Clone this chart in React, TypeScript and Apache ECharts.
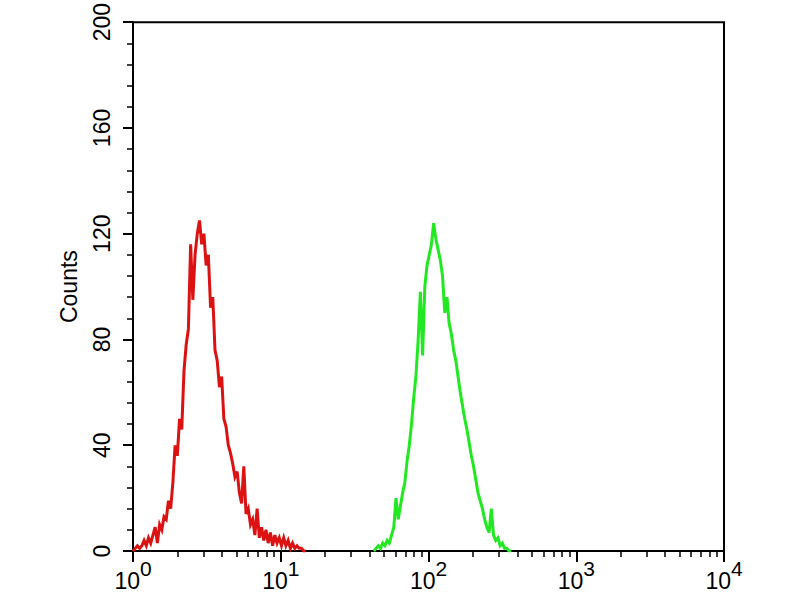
import React, { useEffect, useRef } from "react";
import * as echarts from "echarts";

// Histogram bins are in decades of log10(fluorescence intensity)
const BIN_WIDTH = 0.015;
const RED_START = 0;
const GREEN_START = 1.63;

const RED_COUNTS = [
  0, 1, 2, 1, 2, 4, 2, 5, 3, 6, 9, 3, 10, 8, 13, 12, 19, 16, 26, 40,
  36, 50, 46, 68, 78, 84, 116, 95, 112, 120, 125, 116, 120, 108, 112, 92, 96, 76, 72, 62,
  66, 50, 47, 40, 37, 33, 28, 30, 22, 18, 32, 14, 16, 10, 12, 6, 16, 5, 9, 4,
  8, 3, 7, 2, 6, 3, 5, 2, 5, 2, 4, 1, 3, 1, 2, 1, 1, 0, 0,
];

const GREEN_COUNTS = [
  0, 1, 2, 1, 3, 2, 4, 3, 6, 9, 20, 12, 17, 22, 26, 34, 40, 48, 58, 66,
  80, 98, 74, 100, 108, 112, 116, 124, 118, 114, 110, 104, 90, 96, 86, 82, 76, 72, 66, 60,
  55, 50, 46, 41, 36, 32, 27, 22, 19, 16, 12, 9, 7, 16, 6, 4, 5, 2, 3, 1,
  1, 0, 0,
];

const DECADES = [0, 1, 2, 3, 4];
const MINOR_MULTIPLIERS = [2, 3, 4, 5, 6, 7, 8, 9];
const Y_MIN = 0;
const Y_MAX = 200;
const Y_INTERVAL = 40;
const Y_NAME = "Counts";

function toSeries(start: number, counts: number[]) {
  return counts.map((c, i) => [start + i * BIN_WIDTH, c]);
}

export default function App() {
  const ref = useRef<HTMLDivElement>(null);
  useEffect(() => {
    if (!ref.current) return;
    const chart = echarts.init(ref.current, undefined, { renderer: "svg" });
    const minorTicks: number[] = [];
    DECADES.slice(0, -1).forEach((d) =>
      MINOR_MULTIPLIERS.forEach((m) => minorTicks.push(d + Math.log10(m)))
    );
    const font = "Arial, 'Liberation Sans', sans-serif";
    chart.setOption({
      animation: false,
      backgroundColor: "#ffffff",
      grid: {
        left: 133,
        right: 76,
        top: 21,
        bottom: 49,
        show: true,
        borderColor: "#000",
        borderWidth: 2,
        backgroundColor: "transparent",
      },
      xAxis: [
        {
          type: "value",
          min: 0,
          max: 4,
          interval: 1,
          axisLine: { show: true, onZero: false, lineStyle: { color: "#000", width: 2 } },
          axisTick: { show: true, length: 11, lineStyle: { color: "#000", width: 2 } },
          splitLine: { show: false },
          axisLabel: {
            margin: 7,
            color: "#000",
            fontFamily: font,
            formatter: (v: number) => `{b|10}{s|${v}}`,
            rich: {
              b: { fontSize: 23, lineHeight: 34, verticalAlign: "bottom", fontFamily: font, color: "#000" },
              s: { fontSize: 21, lineHeight: 22, verticalAlign: "top", fontFamily: font, color: "#000" },
            },
          },
        },
        {
          type: "value",
          min: 0,
          max: 4,
          position: "bottom",
          axisLine: { show: false },
          axisLabel: { show: false },
          splitLine: { show: false },
          axisTick: {
            show: true,
            length: 6,
            customValues: minorTicks,
            lineStyle: { color: "#000", width: 1.5 },
          },
        },
      ],
      yAxis: {
        type: "value",
        min: Y_MIN,
        max: Y_MAX,
        interval: Y_INTERVAL,
        name: Y_NAME,
        nameLocation: "middle",
        nameGap: 53,
        nameTextStyle: { fontSize: 23, color: "#000", fontFamily: font },
        axisLine: { show: true, lineStyle: { color: "#000", width: 2 } },
        axisTick: { show: true, length: 10, lineStyle: { color: "#000", width: 2 } },
        minorTick: { show: true, splitNumber: 5, length: 6, lineStyle: { color: "#000", width: 1.5 } },
        splitLine: { show: false },
        axisLabel: {
          rotate: 90,
          margin: 20,
          fontSize: 23,
          color: "#000",
          fontFamily: font,
        },
      },
      series: [
        {
          type: "line",
          xAxisIndex: 0,
          data: toSeries(RED_START, RED_COUNTS),
          showSymbol: false,
          lineStyle: { color: "#dc1212", width: 3, join: "miter" },
          z: 3,
        },
        {
          type: "line",
          xAxisIndex: 0,
          data: toSeries(GREEN_START, GREEN_COUNTS),
          showSymbol: false,
          lineStyle: { color: "#22e822", width: 3, join: "miter" },
          z: 3,
        },
      ],
    });
    return () => chart.dispose();
  }, []);
  return (
    <div
      ref={ref}
      style={{ position: "fixed", left: 0, top: 0, width: 800, height: 600, background: "#fff" }}
    />
  );
}
